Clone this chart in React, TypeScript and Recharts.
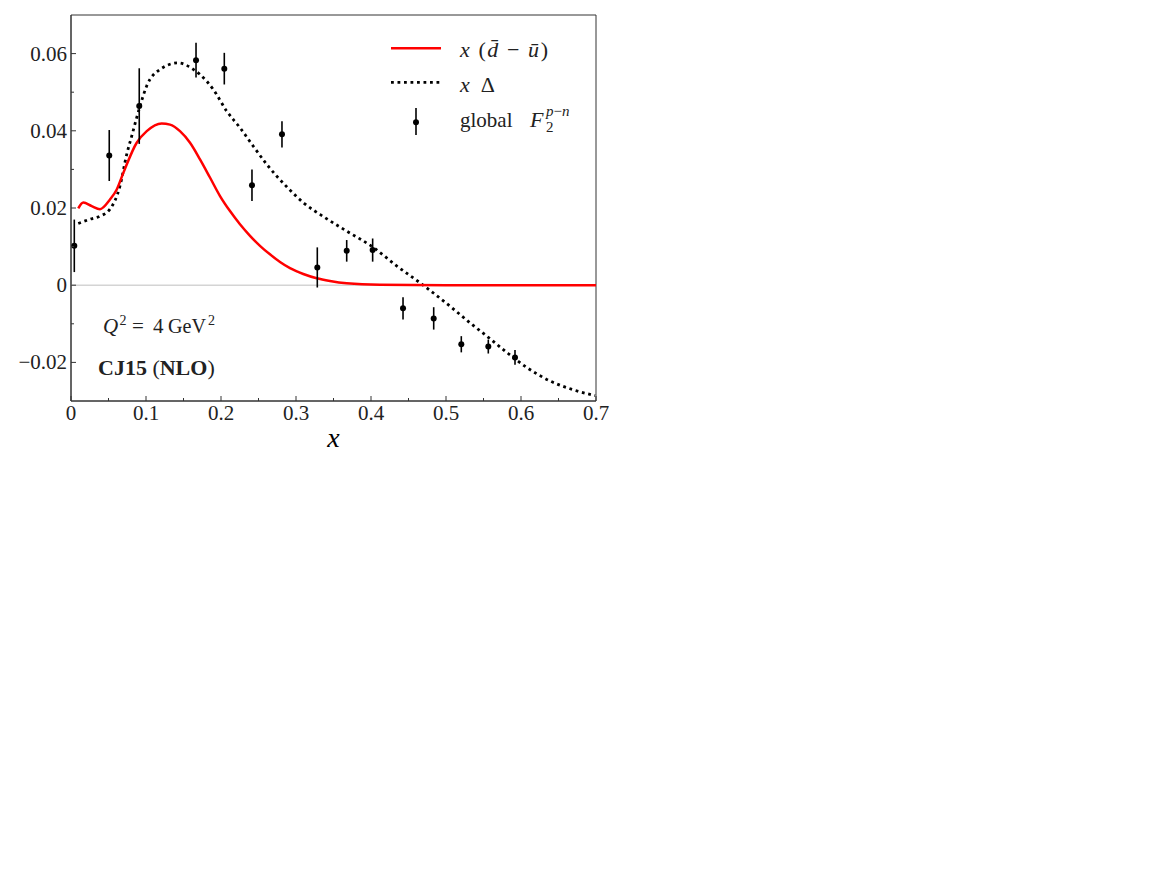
import React from 'react';
import { ComposedChart, Line, Scatter, XAxis, YAxis, ErrorBar, ReferenceLine, ReferenceArea } from 'recharts';

// global F2^{p-n} extraction (points + errors)
const dataX = [0.0044, 0.051, 0.091, 0.1667, 0.2044, 0.2413, 0.2813, 0.3284, 0.3676, 0.4022, 0.4427, 0.4836, 0.5204, 0.5564, 0.592];
const dataY = [0.0102, 0.0336, 0.0464, 0.0583, 0.0561, 0.0259, 0.0391, 0.0046, 0.0089, 0.0091, -0.006, -0.0086, -0.0153, -0.0159, -0.0187];
const dataErr = [0.0068, 0.0066, 0.0098, 0.0045, 0.0041, 0.0041, 0.0034, 0.0052, 0.0028, 0.003, 0.0029, 0.0029, 0.0021, 0.0018, 0.0019];

// x (dbar - ubar)
const seaX = [0.0097, 0.0164, 0.0276, 0.0387, 0.052, 0.061, 0.0698, 0.0876, 0.101, 0.1209, 0.132, 0.1453, 0.1587, 0.172, 0.1853, 0.1987, 0.212, 0.2253, 0.2387, 0.252, 0.2653, 0.2787, 0.292, 0.3097, 0.3276, 0.3453, 0.3676, 0.412, 0.5, 0.6, 0.7];
const seaY = [0.0199, 0.0214, 0.0205, 0.0197, 0.0222, 0.0248, 0.0291, 0.0369, 0.0399, 0.0419, 0.0416, 0.0399, 0.0369, 0.0326, 0.0279, 0.0231, 0.0192, 0.0158, 0.0128, 0.0102, 0.008, 0.006, 0.0044, 0.0029, 0.0018, 0.0011, 0.0005, 0.0001, 0, 0, 0];

// x Delta
const deltaX = [0.0097, 0.0253, 0.0387, 0.052, 0.0653, 0.0743, 0.0809, 0.092, 0.1009, 0.1187, 0.1431, 0.1631, 0.172, 0.1898, 0.2076, 0.2253, 0.2431, 0.261, 0.2876, 0.3097, 0.3387, 0.3676, 0.403, 0.4342, 0.4676, 0.5076, 0.5342, 0.5564, 0.5809, 0.6076, 0.6387, 0.6698, 0.6987];
const deltaY = [0.016, 0.0171, 0.0179, 0.0197, 0.0257, 0.0339, 0.0386, 0.0464, 0.0516, 0.0559, 0.0576, 0.0559, 0.0546, 0.0507, 0.0451, 0.0408, 0.036, 0.0313, 0.0255, 0.0214, 0.0175, 0.014, 0.0098, 0.005, 0.0003, -0.0058, -0.0101, -0.0135, -0.0174, -0.0213, -0.0248, -0.0271, -0.0286];

const xTicks = [0, 0.05, 0.1, 0.15, 0.2, 0.25, 0.3, 0.35, 0.4, 0.45, 0.5, 0.55, 0.6, 0.65, 0.7];
const yTicks = [-0.02, -0.01, 0, 0.01, 0.02, 0.03, 0.04, 0.05, 0.06];

const FONT = '"Liberation Serif", "Times New Roman", serif';
const AXIS = '#333';
const RED = '#ff0000';
const DOTS = '2.8 3.7';

const points = dataX.map((x, i) => ({ x, y: dataY[i], err: dataErr[i] }));
const sea = seaX.map((x, i) => ({ x, y: seaY[i] }));
const delta = deltaX.map((x, i) => ({ x, y: deltaY[i] }));

const fmtY = (v: number) => (Math.abs(v) < 1e-9 ? '0' : (v < 0 ? '\u2212' : '') + Math.abs(v).toFixed(2));
const fmtX = (v: number) => (Math.abs(v) < 1e-9 ? '0' : v.toFixed(1));

const YTick = (props: any) => {
  const { x, y, payload } = props;
  const v = payload.value as number;
  const major = Math.round(v * 100) % 2 === 0;
  return (
    <g>
      <line x1={x} x2={x + (major ? 5 : 3)} y1={y} y2={y} stroke={AXIS} strokeWidth={1} />
      {major && (
        <text x={x - 4} y={y + 7} textAnchor="end" fontFamily={FONT} fontSize={21} fill="#222">
          {fmtY(v)}
        </text>
      )}
    </g>
  );
};

const XTick = (props: any) => {
  const { x, y, payload } = props;
  const v = payload.value as number;
  const major = Math.round(v * 100) % 10 === 0;
  return (
    <g>
      <line x1={x} x2={x} y1={y} y2={y - (major ? 5 : 3)} stroke={AXIS} strokeWidth={1} />
      {major && (
        <text x={x} y={y + 19} textAnchor="middle" fontFamily={FONT} fontSize={21} fill="#222">
          {fmtX(v)}
        </text>
      )}
    </g>
  );
};

const Dot = (props: any) => {
  const { cx, cy } = props;
  return <circle cx={cx} cy={cy} r={3} fill="#000" />;
};

export default function App() {
  return (
    <div style={{ position: 'relative', width: 620, height: 450 }}>
      <ComposedChart width={620} height={450} data={points} margin={{ top: 7, right: 32, bottom: 7, left: 0 }}>
        <XAxis
          dataKey="x"
          type="number"
          domain={[0, 0.7]}
          ticks={xTicks}
          interval={0}
          height={50}
          tickSize={0}
          tickMargin={0}
          tickLine={false}
          axisLine={{ stroke: AXIS, strokeWidth: 1 }}
          tick={<XTick />}
          label={{ value: 'x', position: 'insideBottom', offset: 4, style: { fontFamily: FONT, fontStyle: 'italic', fontSize: 28, fill: '#000' } }}
        />
        <YAxis
          type="number"
          domain={[-0.03, 0.07]}
          ticks={yTicks}
          interval={0}
          width={63}
          tickSize={0}
          tickMargin={0}
          tickLine={false}
          axisLine={{ stroke: AXIS, strokeWidth: 1 }}
          tick={<YTick />}
        />
        <ReferenceArea x1={0} x2={0.7} y1={-0.03} y2={0.07} fill="none" stroke={AXIS} strokeWidth={1} />
        <ReferenceLine y={0} stroke="#d4d4d4" strokeWidth={1.5} />
        <Line data={delta} dataKey="y" type="monotone" stroke="#000" strokeWidth={2.8} strokeDasharray={DOTS} dot={false} isAnimationActive={false} />
        <Line data={sea} dataKey="y" type="monotone" stroke={RED} strokeWidth={2.5} dot={false} isAnimationActive={false} />
        <Scatter data={points} dataKey="y" fill="#000" shape={<Dot />} isAnimationActive={false}>
          <ErrorBar dataKey="err" direction="y" width={0} stroke="#000" strokeWidth={1.6} />
        </Scatter>
      </ComposedChart>

      <svg width={620} height={450} style={{ position: 'absolute', left: 0, top: 0, pointerEvents: 'none' }} fontFamily={FONT} fill="#222">
        {/* legend */}
        <line x1={383} x2={433} y1={40.3} y2={40.3} stroke={RED} strokeWidth={2.5} />
        <text x={452} y={49} fontSize={22} textLength={88} lengthAdjust="spacing">
          <tspan fontStyle="italic">x</tspan>
          <tspan> (</tspan>
          <tspan fontStyle="italic">d&#772;</tspan>
          <tspan> &#8722; </tspan>
          <tspan fontStyle="italic">&#363;</tspan>
          <tspan>)</tspan>
        </text>
        <line x1={383} x2={433} y1={74.3} y2={74.3} stroke="#000" strokeWidth={2.8} strokeDasharray={DOTS} />
        <text x={452} y={84} fontSize={22} textLength={35} lengthAdjust="spacing">
          <tspan fontStyle="italic">x</tspan>
          <tspan> &#916;</tspan>
        </text>
        <line x1={408} x2={408} y1={100} y2={127} stroke="#000" strokeWidth={1.6} />
        <circle cx={408} cy={114.3} r={3} fill="#000" />
        <text x={452} y={119} fontSize={21}>global</text>
        <text x={522} y={119} fontSize={22} fontStyle="italic">F</text>
        <text y={108} fontSize={15}>
          <tspan x={538} fontStyle="italic">p</tspan>
          <tspan>&#8722;</tspan>
          <tspan fontStyle="italic">n</tspan>
        </text>
        <text x={538} y={124} fontSize={15}>2</text>

        {/* annotations */}
        <text y={325} fontSize={21}>
          <tspan x={95} fontStyle="italic">Q</tspan>
          <tspan x={111.5} dy={-8} fontSize={14}>2</tspan>
          <tspan x={124} dy={8}>=</tspan>
          <tspan x={145}>4</tspan>
          <tspan x={160} textLength={38} lengthAdjust="spacingAndGlyphs">GeV</tspan>
          <tspan x={200} dy={-8} fontSize={14}>2</tspan>
        </text>
        <text x={90} y={367} fontSize={22}>
          <tspan fontWeight="bold">CJ15</tspan>
          <tspan> (</tspan>
          <tspan fontWeight="bold">NLO</tspan>
          <tspan>)</tspan>
        </text>
      </svg>
    </div>
  );
}
